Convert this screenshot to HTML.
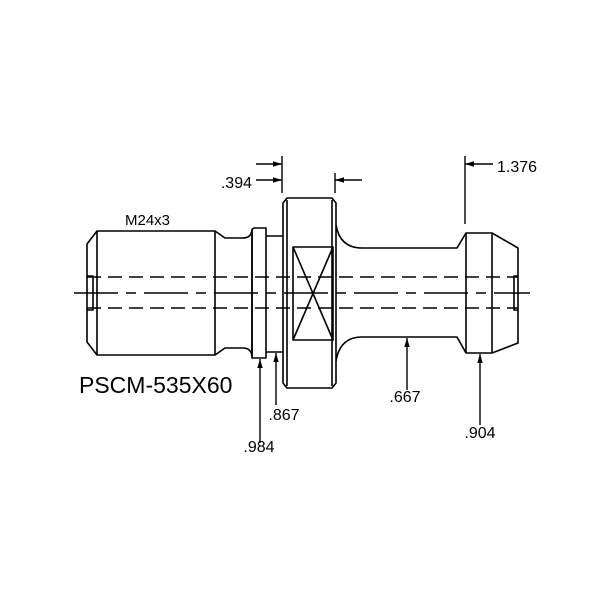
<!DOCTYPE html>
<html><head><style>html,body{margin:0;padding:0;background:#fff}svg{display:block}text{font-family:"Liberation Sans",Arial,sans-serif;fill:#000}</style></head>
<body>
<svg width="600" height="600" viewBox="0 0 600 600" xmlns="http://www.w3.org/2000/svg">
<defs><marker id="a" viewBox="0 0 10 10" refX="10" refY="5" markerWidth="9" markerHeight="9" markerUnits="userSpaceOnUse" orient="auto"><path d="M0,2 L10,5 L0,8 Z" fill="#000"/></marker></defs>
<g fill="none" stroke="#000" stroke-width="1.6" stroke-linejoin="round">
<path d="M97,231 L215,231 L225,238 L243,238 Q251,238 252,230 L252,356 Q251,348 243,348 L225,348 L215,355 L97,355 L87,342 L87,244 Z"/>
<line x1="97" y1="231" x2="97" y2="355"/>
<line x1="215" y1="231" x2="215" y2="355"/>
<path d="M87,276 L93,276 L93,310 L87,310"/>
<path d="M255,228 L266,228 L266,358 L252,358 L252,231 Q252,228 255,228 Z"/>
<path d="M266,236 L283,236 M266,352 L283,352"/>
<path d="M287,198 L332,198 L336,203 L336,383 L332,388 L287,388 L283,383 L283,203 Z"/>
<line x1="287" y1="200" x2="287" y2="386"/>
<line x1="332" y1="200" x2="332" y2="386"/>
<rect x="293" y="247" width="40" height="93"/>
<path d="M293,247 L333,340 M333,247 L293,340"/>
<path d="M336,225 Q340,248 362,248 L457,248 L466,233 L492,233 L518,248 L518,343 L492,353 L466,353 L457,337 L362,337 Q340,337 336,361"/>
<line x1="466" y1="233" x2="466" y2="353"/>
<line x1="492" y1="233" x2="492" y2="353"/>
<path d="M518,276 L514,276 L514,310 L518,310"/>
</g>
<g stroke="#000" stroke-width="1.4" fill="none">
<line x1="87" y1="277" x2="518" y2="277" stroke-dasharray="14,7"/>
<line x1="87" y1="308" x2="518" y2="308" stroke-dasharray="14,7"/>
<line x1="74" y1="293" x2="530" y2="293" stroke-dasharray="44,8,10,8"/>
<line x1="282" y1="156" x2="282" y2="193"/>
<line x1="335" y1="173" x2="335" y2="193"/>
<line x1="465" y1="156" x2="465" y2="224"/>
<line x1="256" y1="164" x2="282" y2="164" marker-end="url(#a)"/>
<line x1="256" y1="180" x2="282" y2="180" marker-end="url(#a)"/>
<line x1="362" y1="180" x2="335" y2="180" marker-end="url(#a)"/>
<line x1="493" y1="164" x2="465" y2="164" marker-end="url(#a)"/>
<line x1="260" y1="443" x2="260" y2="359" marker-end="url(#a)"/>
<line x1="276" y1="405" x2="276" y2="353" marker-end="url(#a)"/>
<line x1="407" y1="390" x2="407" y2="338" marker-end="url(#a)"/>
<line x1="480" y1="425" x2="480" y2="354" marker-end="url(#a)"/>
</g>
<text x="125" y="225" font-size="15">M24x3</text>
<text x="79" y="393" font-size="23">PSCM-535X60</text>
<text x="252" y="188" font-size="16" text-anchor="end">.394</text>
<text x="497" y="172" font-size="16">1.376</text>
<text x="259" y="452" font-size="16" text-anchor="middle">.984</text>
<text x="284" y="420" font-size="16" text-anchor="middle">.867</text>
<text x="405" y="402" font-size="16" text-anchor="middle">.667</text>
<text x="480" y="438" font-size="16" text-anchor="middle">.904</text>
</svg>
</body></html>
